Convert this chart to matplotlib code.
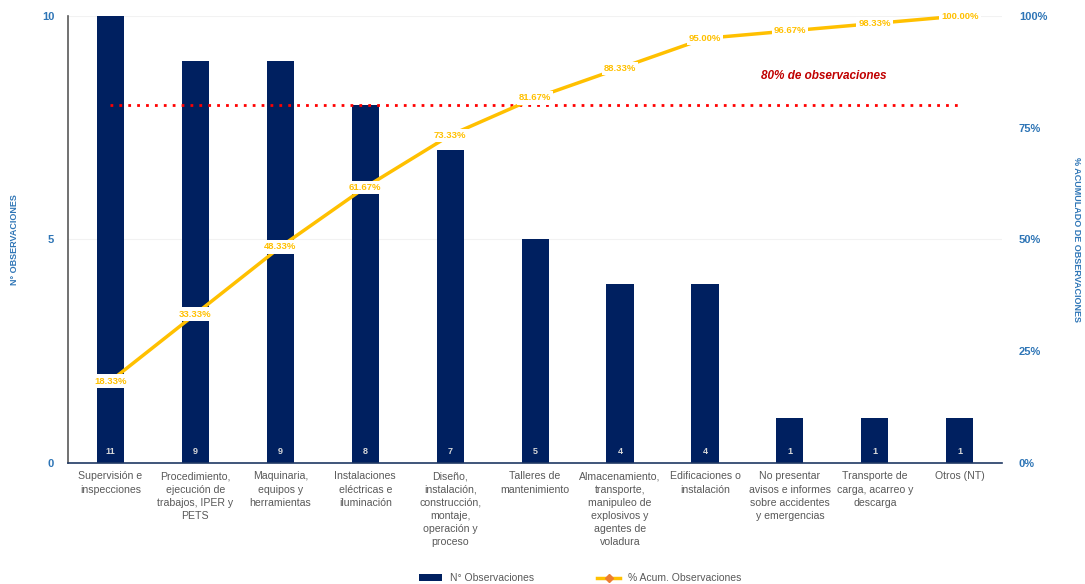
import matplotlib.pyplot as plt
from matplotlib.lines import Line2D
from matplotlib.patches import Patch

plt.rcParams['font.family'] = ['Liberation Sans', 'DejaVu Sans']

categorias = [
    "Supervisión e\ninspecciones",
    "Procedimiento,\nejecución de\ntrabajos, IPER y\nPETS",
    "Maquinaria,\nequipos y\nherramientas",
    "Instalaciones\neléctricas e\niluminación",
    "Diseño,\ninstalación,\nconstrucción,\nmontaje,\noperación y\nproceso",
    "Talleres de\nmantenimiento",
    "Almacenamiento,\ntransporte,\nmanipuleo de\nexplosivos y\nagentes de\nvoladura",
    "Edificaciones o\ninstalación",
    "No presentar\navisos e informes\nsobre accidentes\ny emergencias",
    "Transporte de\ncarga, acarreo y\ndescarga",
    "Otros (NT)",
]
observaciones = [11, 9, 9, 8, 7, 5, 4, 4, 1, 1, 1]
acumulado = [18.33, 33.33, 48.33, 61.67, 73.33, 81.67, 88.33, 95.00, 96.67, 98.33, 100.00]
umbral = 80

AZUL = "#002060"
AMARILLO = "#FFC000"
TXT_EJE = "#2E75B6"
GRIS = "#595959"

fig = plt.figure(figsize=(10.85, 5.84), dpi=100)
ax = fig.add_axes([0.0627, 0.2072, 0.861, 0.7654])
ax2 = ax.twinx()

x = list(range(len(categorias)))
ax.bar(x, observaciones, width=0.32, color=AZUL, zorder=2)
for xi, v in zip(x, observaciones):
    ax.text(xi, 0.25, str(v), ha="center", va="center", color="#d9d9d9",
            fontsize=6.5, fontweight="bold", zorder=3)

ax.set_xlim(-0.5, len(categorias) - 0.5)
ax.set_ylim(0, 10)
ax.set_yticks([0, 5, 10])
ax.set_xticks(x)
ax.set_xticklabels(categorias, fontsize=7.6, color=GRIS, linespacing=1.4)
ax.tick_params(axis="x", length=0, pad=6)
ax.tick_params(axis="y", length=0, pad=10, labelcolor=TXT_EJE, labelsize=8)
for lb in ax.get_yticklabels():
    lb.set_fontweight("bold")
ax.grid(axis="y", color="#f2f2f2", linewidth=0.8, zorder=0)
ax.set_ylabel("N° OBSERVACIONES", color=TXT_EJE, fontsize=6.5,
              fontweight="bold")
ax.yaxis.set_label_coords(-0.052, 0.5)

for s in ["top", "right"]:
    ax.spines[s].set_visible(False)
    ax2.spines[s].set_visible(False)
ax2.spines["left"].set_visible(False)
ax2.spines["bottom"].set_visible(False)
ax.spines["left"].set_color(GRIS)
ax.spines["left"].set_linewidth(1.2)
ax.spines["bottom"].set_color("#1F3864")
ax.spines["bottom"].set_linewidth(1.2)

# curva acumulada y linea del 80%
ax2.set_ylim(0, 100)
ax2.set_yticks([0, 25, 50, 75, 100])
ax2.set_yticklabels(["0%", "25%", "50%", "75%", "100%"])
ax2.tick_params(axis="y", length=0, pad=12, labelcolor=TXT_EJE, labelsize=8)
for lb in ax2.get_yticklabels():
    lb.set_fontweight("bold")
ax2.set_ylabel("% ACUMULADO DE OBSERVACIONES", color=TXT_EJE, fontsize=6.5,
               fontweight="bold", rotation=-90, va="center")
ax2.yaxis.set_label_coords(1.079, 0.5)

ax2.plot(x, acumulado, color=AMARILLO, linewidth=2.5, zorder=3)
for xi, v in zip(x, acumulado):
    ax2.text(xi, v, f"{v:.2f}%", ha="center", va="center", color=AMARILLO,
             fontsize=6.8, fontweight="bold", zorder=4,
             bbox=dict(facecolor="white", edgecolor="none", pad=1.5))

ax2.plot([x[0], x[-1]], [umbral, umbral], color="red", linestyle=(0, (1, 2.2)),
         linewidth=2, zorder=2)
ax2.text(8.4, 86.5, "80% de observaciones", color="#C00000", fontsize=8.5,
         fontweight="bold", style="italic", ha="center", va="center")

handles = [
    Patch(facecolor=AZUL, edgecolor="none"),
    Line2D([], [], color=AMARILLO, linewidth=2.5, marker="D", markersize=4,
           markerfacecolor="#ED7D31", markeredgecolor="#ED7D31"),
]
fig.legend(handles, ["N° Observaciones", "% Acum. Observaciones"],
           loc="lower center", bbox_to_anchor=(0.535, -0.015), ncol=2,
           frameon=False, fontsize=7.5, labelcolor=GRIS, columnspacing=6,
           handlelength=2.2)

fig.savefig("out.png", dpi=100)
